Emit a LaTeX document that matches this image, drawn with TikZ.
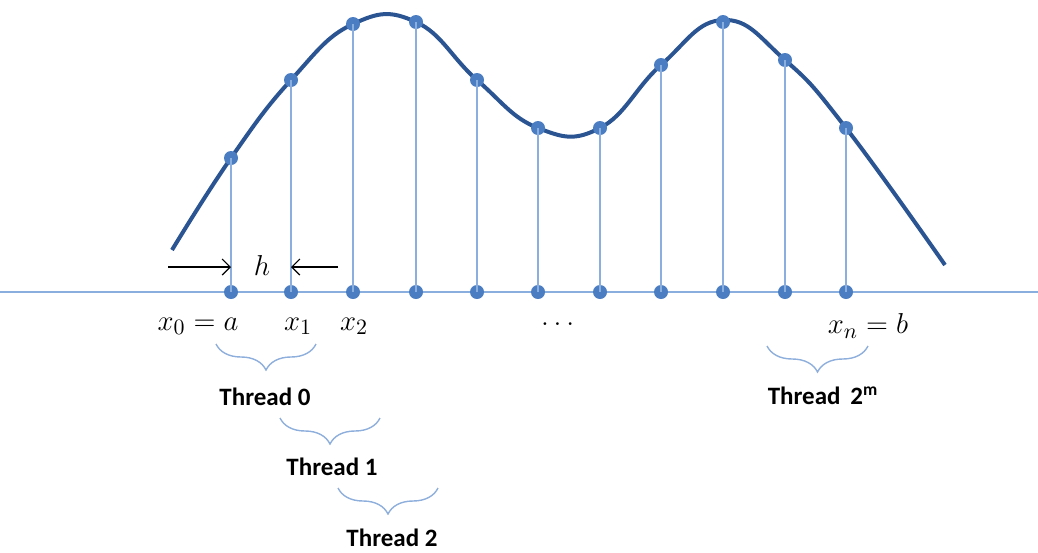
\documentclass[tikz,border=0pt]{standalone}
\usepackage{amsmath,amssymb}
\usepackage[no-math]{fontspec}
\newfontfamily\threadfont{Carlito}
\usepackage{xcolor}
\usepackage{tikz}
\usetikzlibrary{arrows.meta,positioning,decorations.pathreplacing}

\definecolor{curveblue}{HTML}{2A5492}
\definecolor{dotblue}{HTML}{4A7DC2}
\definecolor{stemblue}{HTML}{8AAEDD}
\definecolor{braceblue}{HTML}{8EAEDB}

\begin{document}
\begin{tikzpicture}[
    x=0.5pt, y=-0.5pt,
    dot/.style={circle, fill=dotblue, inner sep=0pt, minimum size=7pt},
    stem/.style={draw=stemblue, line width=1pt},
    curve/.style={draw=curveblue, line width=2pt},
    axisline/.style={draw=stemblue, line width=1pt},
    brace/.style={decorate, decoration={brace, amplitude=13pt, mirror}, draw=braceblue, line width=0.7pt},
    harrow/.style={-{Straight Barb[length=4pt, width=8pt]}, line width=0.6pt},
    lbl/.style={font=\fontsize{15}{17}\selectfont, inner sep=0pt},
    thread/.style={font=\threadfont\bfseries\fontsize{12.5}{15}\selectfont, inner sep=0pt}
]
    \useasboundingbox (0,0) rectangle (1038,552);

    % axis
    \coordinate (axl) at (0,292);
    \coordinate (axr) at (1038,292);
    \draw[axisline] (axl) -- (axr);

    % function
    \draw[curve] plot[smooth, tension=0.75] coordinates {
        (172,250) (231,158) (291,80) (353,24) (416,22) (477,80)
        (538,128) (600,128) (661,65) (723,20) (785,60) (846,128) (945,265)};

    % sample points
    \foreach \i/\x/\y in {0/231/158, 1/291/80, 2/353/24, 3/416/22, 4/477/80, 5/538/128,
                          6/600/128, 7/661/65, 8/723/22, 9/785/60, 10/846/128} {
        \node[dot] (a\i) at (\x,292) {};
        \node[dot] (c\i) at (\x,\y) {};
        \draw[stem] (a\i.center) -- (c\i.center);
    }

    % step width
    \coordinate (hl) at (168,267);
    \coordinate (hr) at (338,267);
    \draw[harrow] (hl) -- (hl -| a0);
    \draw[harrow] (hr) -- (hr -| a1);
    \node[lbl] (h) at (262,265) {$h$};

    % labels
    \node[lbl] (lx0) at (198,326) {$x_0 = a$};
    \node[lbl] (lx1) at (298,326) {$x_1$};
    \node[lbl] (lx2) at (354,326) {$x_2$};
    \node[lbl] (ldots) at (560,324) {$\dots$};
    \node[lbl] (lxn) at (868,326) {$x_n = b$};

    % threads
    \draw[brace] (216,344) -- (316,344);
    \node[thread] (t0) at (265,397) {Thread 0};
    \draw[brace] (280,418) -- (380,418);
    \node[thread] (t1) at (332,467) {Thread 1};
    \draw[brace] (338,488) -- (438,488);
    \node[thread] (t2) at (392,538) {Thread 2};
    \draw[brace] (767,346) -- (868,346);
    \node[thread] (tm) at (823,396) {Thread\, 2\textsuperscript{m}};
\end{tikzpicture}
\end{document}
